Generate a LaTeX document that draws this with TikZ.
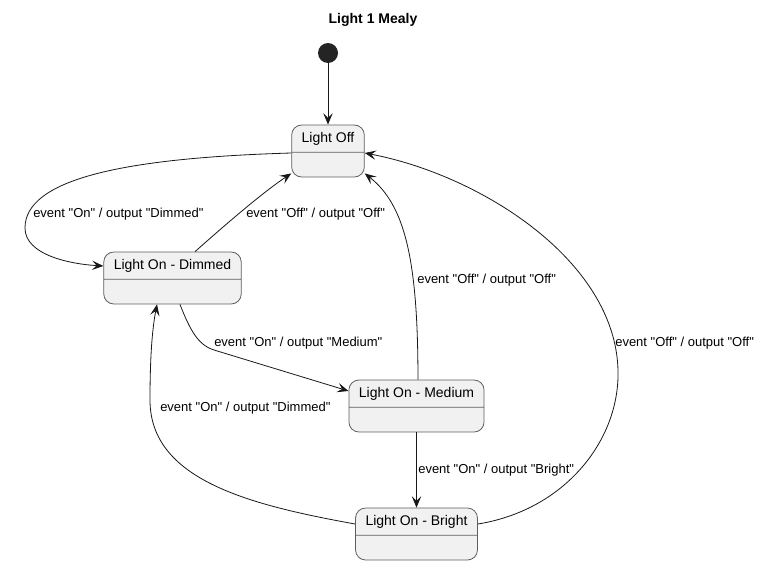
\documentclass[tikz,border=0pt]{standalone}
\usepackage{fontspec}
\setmainfont{Liberation Sans}[Ligatures=TeXOff]
\usepackage{xcolor}
\usetikzlibrary{arrows.meta,shapes.multipart}
\definecolor{statefill}{HTML}{F1F1F1}
\definecolor{stateline}{HTML}{5E5E5E}
\definecolor{edgeline}{HTML}{181818}

\begin{document}
\begin{tikzpicture}[x=0.75pt,y=-0.75pt,>={Stealth[length=8.5pt,width=7pt,inset=3.5pt]},
	state/.style={rectangle split,rectangle split parts=2,draw=stateline,fill=statefill,
		rounded corners=7.5pt,inner xsep=7.5pt,inner ysep=5pt,line width=0.6pt,
		rectangle split empty part height=8pt,font=\fontsize{10.5}{12}\selectfont},
	lbl/.style={anchor=west,inner sep=0pt,font=\fontsize{9.75}{11}\selectfont},
	edge/.style={->,draw=edgeline,line width=0.6pt}]
			\useasboundingbox (0,0) rectangle (759,564);
			
			\node[font=\bfseries\fontsize{10.5}{12}\selectfont] (title) at (373,20) {Light 1 Mealy};
			\node[circle,fill=edgeline!95,minimum size=15pt,inner sep=0pt] (init) at (328,53) {};
			
			\node[state] (off) at (328,151) {Light Off};
			\node[state] (dim) at (172.5,278) {Light On - Dimmed};
			\node[state] (med) at (416.5,406) {Light On - Medium};
			\node[state] (bri) at (416.5,534) {Light On - Bright};
			
			\draw[edge] (init) -- (off);
			\draw[edge] ([yshift=-1.5pt]off.west) .. controls (120,158) and (25,180) .. (25,228)
				.. controls (25,255) and (70,264) .. ([yshift=9pt]dim.west);
			\draw[edge] ([xshift=16.9pt]dim.north) .. controls (225,225) and (262,193) .. ([yshift=3pt]off.south west);
			\draw[edge] ([xshift=5.6pt]dim.south) .. controls (190,330) and (198,345) .. (214,350)
				-- ([yshift=11.25pt]med.west);
			\draw[edge] ([xshift=1.1pt]med.north) .. controls (418,260) and (405,205) .. ([yshift=3pt]off.south east);
			\draw[edge] (med) -- (bri);
			\draw[edge] ([yshift=7.5pt]bri.west) .. controls (250,505) and (150,480) .. (150,400)
				.. controls (150,350) and (153,325) .. ([xshift=-11.6pt]dim.south);
			\draw[edge] ([yshift=7.5pt]bri.east) .. controls (565,510) and (620,440) .. (618,370)
				.. controls (615,260) and (480,175) .. ([yshift=-1.5pt]off.east);
			
			\node[lbl] (l1) at (33,214) {event "On" / output "Dimmed"};
			\node[lbl] (l2) at (246,214) {event "Off" / output "Off"};
			\node[lbl] (l3) at (214,343) {event "On" / output "Medium"};
			\node[lbl] (l4) at (417,280) {event "Off" / output "Off"};
			\node[lbl] (l5) at (418,470) {event "On" / output "Bright"};
			\node[lbl] (l6) at (160,408) {event "On" / output "Dimmed"};
			\node[lbl] (l7) at (615,343) {event "Off" / output "Off"};
		\end{tikzpicture}
\end{document}
